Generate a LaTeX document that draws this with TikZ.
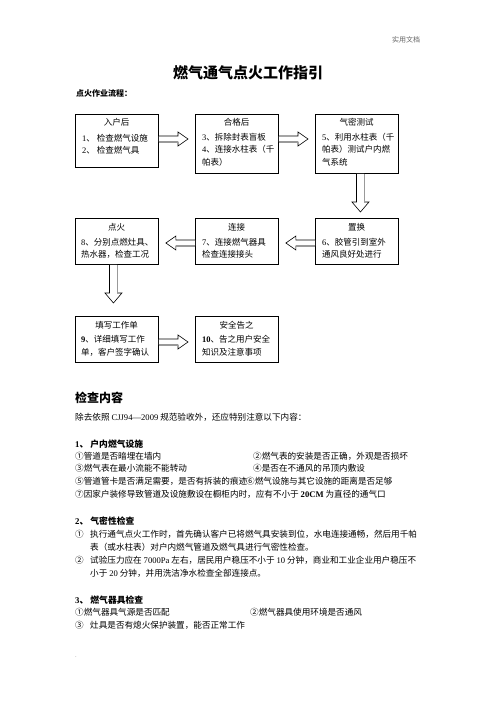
\documentclass[tikz,border=0pt]{standalone}
\usepackage{fontspec}
\setmainfont{Noto Sans CJK SC}
\newfontfamily\lat{Liberation Serif}
\usetikzlibrary{calc}
\newcommand\lt[1]{{\lat #1}}
\tikzset{
  box/.style={draw=black, line width=0.9pt, fill=white, inner sep=0pt, anchor=north west, minimum width=83pt},
  bt/.style={inner sep=0pt, anchor=west, font=\fontsize{8.5}{8.5}\selectfont},
  btc/.style={inner sep=0pt, anchor=center, font=\fontsize{8.5}{8.5}\selectfont},
  tx/.style={inner sep=0pt, anchor=west, font=\fontsize{8.6}{8.6}\selectfont},
  hd/.style={inner sep=0pt, anchor=west, font=\fontsize{8.8}{8.8}\selectfont\bfseries},
  blkarrow/.style={draw=black, line width=0.6pt, fill=white, line join=miter},
  blkshadow/.style={draw=gray!80, line width=1.3pt},
}
\newcommand\rblk[2]{%
  \draw[blkarrow] ($(#1)+(0,-3)$) -- ($(#2)+(-10,-3)$) -- ($(#2)+(-10,-7)$) -- (#2) -- ($(#2)+(-10,7)$) -- ($(#2)+(-10,3)$) -- ($(#1)+(0,3)$);
  \draw[blkshadow] ($(#1)+(0,3)$) -- ($(#2)+(-10,3)$);}
\newcommand\lblk[2]{%
  \draw[blkarrow] ($(#1)+(0,-3)$) -- ($(#2)+(10,-3)$) -- ($(#2)+(10,-7)$) -- (#2) -- ($(#2)+(10,7)$) -- ($(#2)+(10,3)$) -- ($(#1)+(0,3)$);
  \draw[blkshadow] ($(#1)+(0,3)$) -- ($(#2)+(10,3)$);}
\newcommand\dblk[2]{%
  \draw[blkarrow] ($(#1)+(-4,0)$) -- ($(#2)+(-4,-10)$) -- ($(#2)+(-8.5,-10)$) -- (#2) -- ($(#2)+(8.5,-10)$) -- ($(#2)+(4,-10)$) -- ($(#1)+(4,0)$);
  \draw[blkshadow] ($(#1)+(4,0)$) -- ($(#2)+(4,-10)$);}
\begin{document}
\begin{tikzpicture}[x=1pt,y=-1pt]
\useasboundingbox[fill=white] (0,0) rectangle (496,702);

% header and title
\node[inner sep=0pt, text=gray!80!black, font=\fontsize{7}{7}\selectfont] (hdr) at (406,40) {实用文档};
\node[inner sep=0pt, font=\fontsize{15}{15}\selectfont\bfseries] (title) at (248,73) {燃气通气点火工作指引};
\node[inner sep=0pt, anchor=west, font=\fontsize{8}{8}\selectfont\bfseries] (flow) at (76,93) {点火作业流程：};

% boxes
\node[box, minimum height=53pt] (b1) at (75,114) {};
\node[box, minimum height=59pt] (b2) at (195,114) {};
\node[box, minimum height=59pt] (b3) at (315,114) {};
\node[box, minimum height=46pt] (b4) at (75,218) {};
\node[box, minimum height=46pt] (b5) at (195,218) {};
\node[box, minimum height=46pt] (b6) at (315,218) {};
\node[box, minimum height=46pt] (b7) at (75,316) {};
\node[box, minimum height=46pt] (b8) at (195,316) {};

% box texts
\node[btc] (t1a) at (116.5,122) {入户后};
\node[bt] (t1b) at (82,138) {\lt{1}、 检查燃气设施};
\node[bt] (t1c) at (82,150) {\lt{2}、 检查燃气具};

\node[btc] (t2a) at (236.5,122) {合格后};
\node[bt] (t2b) at (202,137) {\lt{3}、拆除封表盲板};
\node[bt] (t2c) at (202,149.5) {\lt{4}、连接水柱表（千};
\node[bt] (t2d) at (202,162) {帕表）};

\node[btc] (t3a) at (356.5,122) {气密测试};
\node[bt] (t3b) at (322,137) {\lt{5}、利用水柱表（千};
\node[bt] (t3c) at (322,149.5) {帕表）测试户内燃};
\node[bt] (t3d) at (322,162) {气系统};

\node[btc] (t4a) at (116.5,227) {点火};
\node[bt] (t4b) at (81,242) {\lt{8}、分别点燃灶具、};
\node[bt] (t4c) at (81,254) {热水器，检查工况};

\node[btc] (t5a) at (236.5,227) {连接};
\node[bt] (t5b) at (202,242) {\lt{7}、连接燃气器具};
\node[bt] (t5c) at (202,254) {检查连接接头};

\node[btc] (t6a) at (356.5,227) {置换};
\node[bt] (t6b) at (322,242) {\lt{6}、胶管引到室外};
\node[bt] (t6c) at (322,254) {通风良好处进行};

\node[btc] (t7a) at (116.5,325) {填写工作单};
\node[bt] (t7b) at (81,339) {\lt{\bfseries 9}、详细填写工作};
\node[bt] (t7c) at (81,352) {单，客户签字确认};

\node[btc] (t8a) at (236.5,325) {安全告之};
\node[bt] (t8b) at (202,339) {\lt{\bfseries 10}、告之用户安全};
\node[bt] (t8c) at (202,352) {知识及注意事项};

% arrow end points
\coordinate (a1s) at ($(b1.north east)+(0,25)$);
\coordinate (a1e) at ($(b2.north west)+(-7,25)$);
\coordinate (a2s) at ($(b2.north east)+(0,25)$);
\coordinate (a2e) at ($(b3.north west)+(-7,25)$);
\coordinate (a3s) at ($(b3.south)+(3.5,0)$);
\coordinate (a3e) at ($(b6.north)+(3.5,-6)$);
\coordinate (a4s) at ($(b6.north west)+(0,25)$);
\coordinate (a4e) at ($(b5.north east)+(7,25)$);
\coordinate (a5s) at ($(b5.north west)+(0,25)$);
\coordinate (a5e) at ($(b4.north east)+(7,25)$);
\coordinate (a6s) at ($(b4.south)+(-3.5,0)$);
\coordinate (a6e) at ($(b7.north)+(-3.5,-13)$);
\coordinate (a7s) at ($(b7.north east)+(0,26)$);
\coordinate (a7e) at ($(b8.north west)+(-7,26)$);

\rblk{a1s}{a1e}
\rblk{a2s}{a2e}
\dblk{a3s}{a3e}
\lblk{a4s}{a4e}
\lblk{a5s}{a5e}
\dblk{a6s}{a6e}
\rblk{a7s}{a7e}

% check content
\node[inner sep=0pt, anchor=west, font=\fontsize{12}{12}\selectfont\bfseries] (chk) at (75,398) {检查内容};
\node[tx] (intro) at (75,417) {除去依照 \lt{CJJ94—2009} 规范验收外，还应特别注意以下内容：};

\node[hd] (s1) at (75,444) {\lt{1}、 户内燃气设施};
\node[tx] (s1a) at (75,456) {①管道是否暗埋在墙内};
\node[tx] (s1b) at (253,456) {②燃气表的安装是否正确，外观是否损坏};
\node[tx] (s1c) at (75,468.5) {③燃气表在最小流能不能转动};
\node[tx] (s1d) at (253,468.5) {④是否在不通风的吊顶内敷设};
\node[tx] (s1e) at (75,481.5) {⑤管道管卡是否满足需要，是否有拆装的痕迹};
\node[tx] (s1f) at (246,481.5) {⑥燃气设施与其它设施的距离是否足够};
\node[tx] (s1g) at (75,494) {⑦因家户装修导致管道及设施敷设在橱柜内时，应有不小于 \lt{\bfseries 20CM} 为直径的通气口};

\node[hd] (s2) at (75,521) {\lt{2}、 气密性检查};
\node[tx] (s2n1) at (75,534) {①};
\node[tx] (s2a) at (90,534) {执行通气点火工作时，首先确认客户已将燃气具安装到位，水电连接通畅，然后用千帕};
\node[tx] (s2b) at (90,547) {表（或水柱表）对户内燃气管道及燃气具进行气密性检查。};
\node[tx] (s2n2) at (75,560) {②};
\node[tx] (s2c) at (90,560) {试验压力应在 \lt{7000Pa} 左右，居民用户稳压不小于 \lt{10} 分钟，商业和工业企业用户稳压不};
\node[tx] (s2d) at (90,573) {小于 \lt{20} 分钟，并用洗洁净水检查全部连接点。};

\node[hd] (s3) at (75,600) {\lt{3}、 燃气器具检查};
\node[tx] (s3a) at (75,612) {①燃气器具气源是否匹配};
\node[tx] (s3b) at (250,612) {②燃气器具使用环境是否通风};
\node[tx] (s3n3) at (75,625) {③};
\node[tx] (s3c) at (90,625) {灶具是否有熄火保护装置，能否正常工作};

\node[inner sep=0pt, text=gray, font=\fontsize{6}{6}\selectfont] (dot) at (76,657) {.};
\end{tikzpicture}
\end{document}
